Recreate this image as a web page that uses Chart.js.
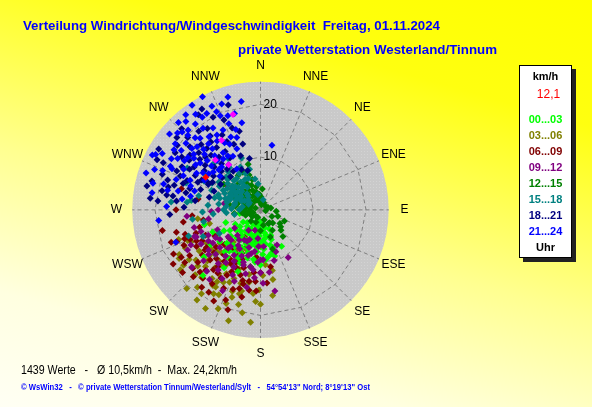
<!DOCTYPE html>
<html><head><meta charset="utf-8">
<script src="https://cdn.jsdelivr.net/npm/chart.js@4.4.1/dist/chart.umd.min.js"></script>
<style>
html,body{margin:0;padding:0;background:#fff;}
#wrap{position:relative;width:592px;height:407px;overflow:hidden;
  background:linear-gradient(196deg,#ffff00 0%,#ffff10 22%,#ffff90 55%,#ffffe0 80%,#fffff4 100%);
  font-family:"Liberation Sans",Arial,sans-serif;}
canvas{position:absolute;left:0;top:0;}
.t{position:absolute;white-space:pre;line-height:1;transform-origin:0 50%;}
#legend{position:absolute;left:519px;top:65px;width:51px;height:191px;background:#fff;border:1px solid #000;box-shadow:4px 4px 0 #222;}
.lg{position:absolute;left:0;width:51px;text-align:center;white-space:pre;line-height:1;font:bold 11px "Liberation Sans",Arial,sans-serif;}
</style></head><body>
<div id="wrap">
<canvas id="c" width="592" height="407"></canvas>
<div class="t fit" data-w="417" style="left:23px;top:18px;font:bold 13px 'Liberation Sans',Arial,sans-serif;color:#0000ff">Verteilung Windrichtung/Windgeschwindigkeit  Freitag, 01.11.2024</div>
<div class="t fit" data-w="259" style="left:238px;top:42px;font:bold 13px 'Liberation Sans',Arial,sans-serif;color:#0000ff">private Wetterstation Westerland/Tinnum</div>
<div id="legend"></div>
<div class="t fit" id="f1" data-w="216" style="left:21px;top:363px;font:12px 'Liberation Sans',Arial,sans-serif;color:#000"></div>
<div class="t fit" data-w="349" style="left:21px;top:382px;font:bold 9px 'Liberation Sans',Arial,sans-serif;color:#0000ff">© WsWin32   -   © private Wetterstation Tinnum/Westerland/Sylt   -   54°54'13" Nord; 8°19'13" Ost</div>
</div>
<script>
// ---- data: [direction in degrees (0 = N), speed km/h] ----
const directionLabels = ['N','NNE','NE','ENE','E','ESE','SE','SSE','S','SSW','SW','WSW','W','WNW','NW','NNW'];
const ringTicks = [10, 20];
const speedMax = 24.3;
const hourLabels = ['00...03','03...06','06...09','09...12','12...15','15...18','18...21','21...24'];
const hourColors = ['#00ff00','#808000','#800000','#800080','#008000','#008080','#000080','#0000ff'];
const drawOrder = [16, 18, 17, 15, 13, 12, 11, 10]; // lower = drawn later (on top)
const currentSpeedText = '12,1';
const statCount = '1439', statAvg = '10,5', statMax = '24,2';

const h00_03 = [[221,16.6],[163,9.2],[278,13.3],[302,12.2],[207,6.3],[200,5],[195,7],[190,5.5],[185,8],[180,6],[175,7.5],[170,9],[210,8],[215,5],[220,7],[225,9],[230,6],[235,4],[240,8],[245,10],[210,3],[200,3],[190,3.5],[180,2.5],[195,9.5],[205,10],[215,11],[225,12],[235,11.5],[250,7],[255,11],[260,4],[170,4.5],[160,6],[155,4],[150,8],[200,12.5],[212,13],[190,11],[180,10.5],[230,14],[215,8.5],[198,7.8],[185,4.5],[240,5.5],[165,7],
  [192,6.5],[198,5.8],[203,7],[208,5],[213,6.8],[218,4],[223,5.5],[228,7.5],[196,8.5],[204,9],[210,6.5],[187,7],[182,5],[177,8.5],[220,10.5],[232,9.8],[188,9.5],
  [183,3],[188,4],[193,5],[199,6.8],[206,8],[211,9.5],[216,6],[221,8.5],[226,3.5],[231,5],[236,7],[241,9],[186,10],[176,6],[171,5.5],[166,8.5],[194,2],[206,4],[201,10.8],[217,9.8],
  [172,6.5],[168,5],[174,9.5],[178,4],[184,6.2],[162,7.5],[158,5.2],[167,3.5]];
const h03_06 = [[208,13.8],[190,19.9],[241,17.6],[170,13.5],[199,16.4],[209,18.3],[200,12],[205,10.5],[212,12.5],[218,14],[222,11],[228,13],[232,15.5],[238,12],[245,14.5],[250,16.5],[215,16],[195,14.5],[190,12.5],[185,16],[180,18],[175,10.5],[225,17.5],[203,20.5],[196,22],[215,19.5],[233,19],[210,8.5],[200,8],[220,8],[240,9.5],[180,7],[172,16.5],[262,12],[255,10],[230,10],[215,21],[185,21.5],[203,15],[228,16],
  [207,15.5],[213,14.5],[219,12.5],[224,15],[204,13],[198,17.5],[236,14],[243,16],[210,17],[193,18.5],[181,15.3],[169,11.8],[212,17],[193,15.9],
  [201,14],[206,18],[211,16],[216,13],[221,17],[226,14],[231,12],[235,16.5],[239,18],[247,15],[194,16.5],[189,14],[183,17.5],[178,12.5],[219,19],[223,20.5],[209,21.5],[200,19],[226,11.5],[234,18]];
const h06_09 = [[209,11.7],[201,18.4],[255,16.5],[261,14.8],[189,13.8],[200,10],[205,13],[210,15],[215,12],[220,10],[225,13.5],[230,15.5],[235,12.5],[240,14],[245,16],[250,13],[195,15.5],[190,11],[185,9],[180,12],[175,14],[220,17],[212,18.5],[225,18],[205,16.5],[198,20],[230,11],[215,9],[200,7.5],[190,6.5],[210,6],[240,10],[250,18],[258,19],[265,13],[270,16],[235,17.5],[218,14.5],[202,12],[192,17],[183,15.5],[228,8],[245,11.5],[260,11],[285,15.5],[280,12],[238,19.5],[170,11],
  [207,14],[212,11],[217,13.5],[222,15.5],[227,12],[232,14],[237,16],[242,12.5],[203,9],[197,13],[193,14.5],[247,14.5],[252,15],[213,16.8],[222,12.5],[194,13.9],[184,13.7],[249,15.4],
  [205,11],[209,9.5],[214,14.5],[219,11],[224,16.5],[229,17],[234,13],[239,17.5],[244,13.5],[249,17],[254,12],[196,11.5],[199,16],[188,15.5],[186,12],[207,19.5],[217,18.5],[231,19],[243,18.5],[226,9.5]];
const h09_12 = [[208,8.4],[170,15.7],[155,7.4],[216,16.4],[241,15.8],[200,6],[195,9],[190,11],[185,13],[180,9.5],[175,7],[205,12],[210,10],[215,7],[220,9.5],[225,12],[230,8],[235,11],[240,13],[245,9],[250,12],[228,14.5],[215,14],[200,14.5],[190,15],[185,5.5],[195,4],[210,4.5],[165,10],[160,8.5],[150,10.5],[235,6],[260,10],[265,14],[270,8],[280,7],[306,8],[268,9.3],[247,13.2],[177,9.5],[205,17],[230,17],[180,12],[197,11],
  [197,7.5],[202,9.5],[207,11],[212,8],[217,11],[222,6.5],[227,10.5],[232,12.5],[203,6.5],[193,12.5],[188,8],[218,13],[238,10],[243,14.8],
  [183,10],[187,11.5],[192,8.5],[198,10.5],[203,13.5],[208,6.5],[213,12],[219,9],[224,8],[229,13],[234,9.5],[239,11.5],[244,11],[183,7],[172,12],[178,14],[248,13.5],[255,13],[221,15.5],[209,15]];
const h12_15 = [[335,7.9],[327,7.8],[323,4],[352,2.5],[350,4.5],[345,6],[340,5],[330,6],[320,6.5],[315,5],[310,4],[305,3],[300,2],[290,3],[285,4.5],[280,3],[275,2],[270,4],[265,3],[260,2],[295,5.5],[300,6.5],[310,7],[318,8.5],[340,3],[355,1.5],[10,1],[100,1],[137,3.4],[140,6.6],[163,7.8],[150,4.5],[120,2.5],[170,3],[180,4],[200,2.5],[230,2],[250,3],[330,3],[345,9],[5,4],[280,6],[262,5],[325,2],[305,8.5],[130,5],
  [272,3.5],[278,4.8],[288,2],[296,3.8],[306,5],[312,2.8],[318,4.8],[328,4.5],[335,2],[342,7],[260,3.5],[290,1],[250,1.5],[215,1.5],[160,5.5],[145,3],
  [268,3],[276,3],[284,2.8],[292,4.5],[299,4.5],[303,5.5],[309,6],[314,3.8],[322,3.5],[333,5.5],[338,4],[347,3.5],[356,3],[2,2.5],[25,1.5],[60,1.2],[255,2.5],[240,2],[220,2.8],[200,1.5],
  [80,2],[110,3.5],[125,4.5],[150,3],[160,2],[135,5.5],[115,5],[95,3],[70,1.5]];
const h15_18 = [[300,5.4],[339,6.4],[278,13.2],[250,14.5],[275,17],[305,6],[310,7],[295,7.5],[290,6],[285,5],[315,5],[320,4],[300,3.5],[310,3],[325,6.5],[330,8],[335,9],[345,8],[350,6],[320,9.5],[310,10],[300,9],[292,10],[285,9],[278,8],[270,7],[265,9],[258,11],[283,12],[297,12],[315,12.5],[328,11.5],[340,10.5],[305,4.5],[295,4],[280,3.5],[270,4],[260,5],[290,8.5],[318,7.5],[350,3],[355,5],[15,2],[290,15],[300,16],[262,13],[245,12],[240,9],
  [298,6.5],[303,7.5],[308,5.5],[313,6.5],[293,5],[288,7],[318,3.5],[298,8],[283,6.5],[303,2.5],[313,8.5],[323,7.5],[330,5],[275,10],[268,11],[326,5.6],[276,14],
  [296,6],[301,4.5],[306,6.8],[311,5],[316,6],[321,5.5],[291,6.5],[286,8],[281,5],[276,6.5],[299,10.5],[304,9.5],[309,8],[314,9],[324,10],[333,6.5],[338,7.5],[295,2.5],[272,5.5],[265,6.5]];
const h18_21 = [[301,22.5],[285,21.3],[327,21.6],[343,20.9],[342,7.9],[275,19.5],[267,17.2],[290,19.8],[296,20.5],[308,20],[315,19.5],[322,19],[333,19.8],[338,18.5],[312,18],[304,18],[295,17.5],[286,17],[279,16.8],[318,16.8],[326,17],[333,16],[300,15.5],[292,15],[283,14.5],[310,15],[318,14],[325,14.5],[338,13.5],[305,13],[297,12.5],[289,12],[313,12],[320,11.5],[330,11.5],[340,11],[300,10.5],[310,9.5],[325,9],[335,8.5],[278,12.5],[272,14.5],[284,10],[292,9.5],[345,15.5],[348,10],[305,16.5],[316,21.5],[330,22.2],[288,18.5],
  [298,14],[303,15],[308,17],[313,16],[298,11.5],[303,9],[315,10.5],[322,12.8],[287,14],[293,16.5],[281,19],[276,21],[282,22],[306,11],[318,8.5],
  [299,17],[304,19.5],[309,13.5],[314,14.5],[319,15.5],[324,16],[329,13],[334,14.5],[294,13],[289,15.5],[284,18],[279,18],[296,21.8],[311,21],[327,18.5],[341,16.5],[345,13],[321,10],[296,11],[276,16]];
const h21_24 = [[333,24.2],[327,23.8],[344,22.4],[297,23],[279,20.8],[264,19.4],[249,17.2],[340,21.5],[336,20.5],[320,22],[315,21],[310,22.5],[305,20],[300,21.5],[292,20],[285,19],[288,22.8],[325,19],[330,18],[318,18.5],[312,17.5],[306,17],[298,16.5],[290,17],[283,16],[322,16],[328,15.5],[335,16.8],[340,17.5],[345,19],[315,15],[308,14.5],[300,14],[293,14.5],[320,13.5],[327,13],[335,13.8],[342,14.5],[312,12.5],[305,12],[318,11],[325,10.5],[333,11.5],[298,12],[286,13],[278,15],[272,17.8],[310,10],[330,9],[10,12.5],[348,17],[350,21],[302,18.5],[316,19.8],[323,20.5],[295,18.5],[282,18],[308,16],[332,14.5],
  [305,15],[310,16.5],[315,17],[320,17.8],[325,17],[330,16.5],[312,19],[318,20.5],[322,14.8],[307,18.8],[300,19.5],[328,20.8],[335,21.8],[313,13.8],[303,17.2],[296,19],[317,15.8],[324,12],[309,11.5],[338,15],
  [303,13],[308,20.5],[313,21.5],[317,22.8],[322,23],[326,22],[331,21],[337,19.5],[341,19],[343,16],[339,12.5],[329,12],[319,12.5],[314,11],[298,22.5],[291,21.5],[284,21],[294,16],[289,14],[281,13.5]];
const lastHourPoints = [[344,18.9],[331,15.2],[325,10.5],[318,12.8]];
const currentPoint = [[301,12.1]];

const hourData = [h00_03,h03_06,h06_09,h09_12,h12_15,h15_18,h18_21,h21_24];

// ---- layout (pixels) ----
const W = 592, H = 407, CX = 260, CY = 210, RPX = 130, LABEL_R = 144;
const k = speedMax / RPX; // km/h per pixel

function toXY(arr){
  return arr.map(([d,v]) => ({x: v*Math.sin(d*Math.PI/180), y: v*Math.cos(d*Math.PI/180)}));
}

// ---- legend & footer texts ----
const lg = document.getElementById('legend');
function addLg(txt, y, color, extra){
  const d = document.createElement('div');
  d.className = 'lg'; d.textContent = txt; d.style.top = (y - 65 - 6) + 'px'; d.style.color = color;
  if (extra) Object.assign(d.style, extra);
  lg.appendChild(d);
}
addLg('km/h', 75, '#000');
addLg(currentSpeedText, 92, '#ff0000', {fontWeight:'normal', fontSize:'12px', left:'3px'});
hourLabels.forEach((l,i) => addLg(l, 118 + i*16, hourColors[i]));
addLg('Uhr', 246, '#000');
document.getElementById('f1').textContent = statCount + ' Werte   -   Ø ' + statAvg + 'km/h  -  Max. ' + statMax + 'km/h';
document.querySelectorAll('.fit').forEach(el => {
  const w = el.getBoundingClientRect().width;
  el.style.transform = 'scaleX(' + (parseFloat(el.dataset.w)/w) + ')';
});

// ---- polar grid plugin ----
const polarGrid = {
  id: 'polarGrid',
  beforeDatasetsDraw(chart){
    const {ctx, scales:{x, y}} = chart;
    const cx = x.getPixelForValue(0), cy = y.getPixelForValue(0);
    const rr = v => x.getPixelForValue(v) - cx;
    const R = rr(speedMax);
    ctx.save();
    const pc = document.createElement('canvas'); pc.width = 3; pc.height = 3;
    const p = pc.getContext('2d'); p.fillStyle = '#c9c9c9'; p.fillRect(0,0,3,3);
    p.fillStyle = '#d3d3d3'; p.fillRect(1,1,1,1);
    ctx.fillStyle = ctx.createPattern(pc, 'repeat');
    ctx.beginPath(); ctx.arc(cx, cy, R, 0, Math.PI*2); ctx.fill();
    ctx.strokeStyle = '#7f7f7f'; ctx.lineWidth = 1; ctx.setLineDash([4,3]);
    for (let i = 0; i < 16; i++){
      const a = i*22.5*Math.PI/180;
      ctx.beginPath(); ctx.moveTo(cx, cy);
      ctx.lineTo(cx + R*Math.sin(a), cy - R*Math.cos(a)); ctx.stroke();
    }
    ringTicks.forEach(t => {
      const r = rr(t);
      ctx.beginPath();
      for (let i = 0; i <= 16; i++){
        const a = i*22.5*Math.PI/180;
        const px = cx + r*Math.sin(a), py = cy - r*Math.cos(a);
        i ? ctx.lineTo(px, py) : ctx.moveTo(px, py);
      }
      ctx.stroke();
    });
    ctx.setLineDash([]);
    ctx.fillStyle = '#000';
    ctx.font = '12px "Liberation Sans", Arial, sans-serif';
    ctx.textAlign = 'left'; ctx.textBaseline = 'middle';
    ringTicks.forEach(t => ctx.fillText(String(t), cx + 3, cy - rr(t)));
    ctx.textAlign = 'center';
    directionLabels.forEach((l,i) => {
      const a = i*22.5*Math.PI/180;
      ctx.fillText(l, cx + LABEL_R*Math.sin(a), cy - LABEL_R*Math.cos(a));
    });
    ctx.restore();
  }
};

const datasets = hourData.map((arr,i) => ({
  label: hourLabels[i], data: toXY(arr), backgroundColor: hourColors[i],
  pointStyle: 'rectRot', pointRadius: 3.5, borderWidth: 0, order: drawOrder[i]
}));
datasets.push({label:'letzte', data: toXY(lastHourPoints), backgroundColor:'#ff00ff', pointStyle:'rectRot', pointRadius:3.5, borderWidth:0, order:2});
datasets.push({label:'aktuell', data: toXY(currentPoint), backgroundColor:'#ff0000', pointStyle:'rectRot', pointRadius:3.5, borderWidth:0, order:1});

new Chart(document.getElementById('c'), {
  type: 'scatter',
  data: { datasets },
  options: {
    responsive: false, animation: false, devicePixelRatio: 1,
    layout: { padding: 0 },
    plugins: { legend: {display:false}, tooltip: {enabled:false}, title:{display:false} },
    scales: {
      x: { type:'linear', display:false, min: -CX*k, max: (W-CX)*k },
      y: { type:'linear', display:false, min: -(H-CY)*k, max: CY*k }
    }
  },
  plugins: [polarGrid]
});
</script>
</body></html>
